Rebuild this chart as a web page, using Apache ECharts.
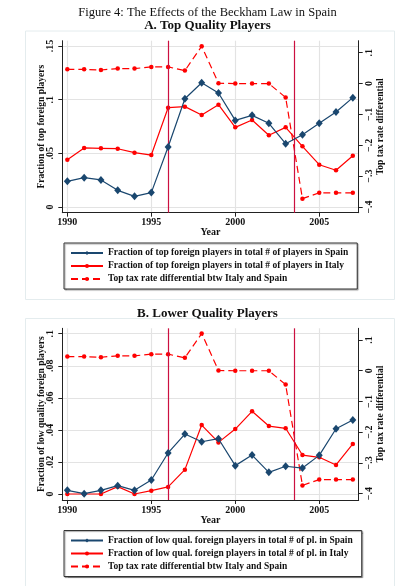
<!DOCTYPE html>
<html><head><meta charset="utf-8">
<script src="https://cdn.jsdelivr.net/npm/echarts@6/dist/echarts.min.js"></script>
<style>html,body{margin:0;padding:0;background:#fff}#c{width:415px;height:586px}</style>
</head><body><div id="c"></div><script>
const years = [1990,1991,1992,1993,1994,1995,1996,1997,1998,1999,2000,2001,2002,2003,2004,2005,2006,2007];
const topSpain = [0.0239,0.0273,0.0252,0.0155,0.0099,0.0134,0.0559,0.1009,0.1158,0.1062,0.0807,0.0854,0.0780,0.0590,0.0674,0.0780,0.0885,0.1019];
const topItaly = [0.0441,0.0550,0.0547,0.0543,0.0506,0.0484,0.0925,0.0935,0.0857,0.0953,0.0742,0.0811,0.0668,0.0742,0.0565,0.0394,0.0342,0.0478];
const taxDiff = [0.046,0.046,0.044,0.0485,0.0485,0.054,0.054,0.042,0.121,0.001,0,0,0,-0.045,-0.373,-0.354,-0.354,-0.354];
const lowSpain = [0.0023,0.0002,0.0023,0.0052,0.0023,0.0087,0.0256,0.0374,0.0326,0.0345,0.0177,0.0243,0.0135,0.0173,0.0162,0.0241,0.0407,0.0462];
const lowItaly = [0,0,0,0.0046,0,0.0021,0.0044,0.0152,0.0430,0.0322,0.0405,0.0516,0.0424,0.0410,0.0243,0.0229,0.0181,0.0312];
const policyYears = [1996, 2003.5];
const xTicks = [1990,1995,2000,2005];
const topLeftTicks = [0,0.05,0.1,0.15];
const lowLeftTicks = [0,0.02,0.04,0.06,0.08,0.1];
const rightTicks = [-0.4,-0.3,-0.2,-0.1,0,0.1];

const FONT = 'Liberation Serif';
const NAVY = '#1a476f', RED = '#ff0000', CRAN = '#cc1040', GRID = '#e3e3e3', AX = '#222';
const pair = arr => years.map((y,i)=>[y,arr[i]]);
const fmt = v => { if (Math.abs(v) < 1e-9) return '0'; let s = String(+v.toFixed(3)); return s.replace('0.', '.').replace('-', '\u2212'); };

const txt = {fontFamily: FONT, fontWeight: 'bold', color: '#111', fontSize: 9.5};

function xAxis(gi){
  return {type:'value', gridIndex:gi, min:1989.7, max:2007.35,
    name:'Year', nameLocation:'middle', nameGap:15, nameMoveOverlap:false, nameTextStyle:{...txt, fontSize:10},
    axisLine:{show:true, onZero:false, lineStyle:{color:AX, width:1}},
    axisTick:{show:true, length:4, customValues:xTicks, lineStyle:{color:AX}},
    axisLabel:{...txt, fontSize:10, margin:5, customValues:xTicks, formatter: v=>String(v)},
    splitLine:{show:true, lineStyle:{color:GRID, width:1.2}}};
}
function leftAxis(gi, min, max, ticks, name){
  return {type:'value', gridIndex:gi, position:'left', min, max,
    name, nameLocation:'middle', nameGap:16, nameMoveOverlap:false, nameRotate:90, nameTextStyle:{...txt},
    axisLine:{show:true, onZero:false, lineStyle:{color:AX}},
    axisTick:{show:true, length:4, customValues:ticks, lineStyle:{color:AX}},
    axisLabel:{...txt, fontSize:10, rotate:90, margin:7, customValues:ticks, formatter:fmt},
    splitLine:{show:true, lineStyle:{color:GRID, width:1.2}}};
}
function rightAxis(gi, min, max){
  return {type:'value', gridIndex:gi, position:'right', min, max,
    name:'Top tax rate differential', nameLocation:'middle', nameGap:17, nameMoveOverlap:false, nameRotate:90, nameTextStyle:{...txt},
    axisLine:{show:true, onZero:false, lineStyle:{color:AX}},
    axisTick:{show:true, length:4, customValues:rightTicks, lineStyle:{color:AX}},
    axisLabel:{...txt, fontSize:10, rotate:90, margin:6, customValues:rightTicks, formatter:fmt},
    splitLine:{show:false}};
}
function spainSeries(name, data, xi, yi){
  return {type:'line', name, xAxisIndex:xi, yAxisIndex:yi, data:pair(data),
    symbol:'diamond', symbolSize:[7,8], itemStyle:{color:NAVY}, lineStyle:{color:NAVY, width:1.2}, z:5,
    markLine:{silent:true, symbol:'none', label:{show:false}, lineStyle:{color:CRAN, type:'solid', width:1.2},
      data: policyYears.map(y=>({xAxis:y}))}};
}
function italySeries(name, data, xi, yi){
  return {type:'line', name, xAxisIndex:xi, yAxisIndex:yi, data:pair(data),
    symbol:'circle', symbolSize:4.5, itemStyle:{color:RED}, lineStyle:{color:RED, width:1.2}, z:4};
}
function taxSeries(xi, yi){
  return {type:'line', name:'Top tax rate differential btw Italy and Spain', xAxisIndex:xi, yAxisIndex:yi, data:pair(taxDiff),
    symbol:'circle', symbolSize:4.5, itemStyle:{color:RED}, lineStyle:{color:RED, width:1.2, type:[7,4]}, z:3};
}
function legend(top, names){
  return {orient:'vertical', left:64, top, data:names, itemWidth:32, itemHeight:5, itemGap:3,
    padding:[5,9,5,6], borderColor:'#333', borderWidth:1, backgroundColor:'#fff',
    shadowColor:'rgba(0,0,0,0.35)', shadowOffsetX:1, shadowOffsetY:1, shadowBlur:1,
    textStyle:{...txt, fontSize:9.5}, selectedMode:false};
}
const n1 = ['Fraction of top foreign players in total # of players in Spain','Fraction of top foreign players in total # of players in Italy','Top tax rate differential btw Italy and Spain'];
const n2 = ['Fraction of low qual. foreign players in total # of pl. in Spain','Fraction of low qual. foreign players in total # of pl. in Italy','Top tax rate differential btw Italy and Spain'];

const chart = echarts.init(document.getElementById('c'));
chart.setOption({
  animation:false,
  backgroundColor:'#fff',
  title:[
    {text:'Figure 4: The Effects of the Beckham Law in Spain', left:'center', top:1, textStyle:{fontFamily:FONT, fontWeight:'normal', fontSize:12.5, color:'#111'}},
    {text:'A. Top Quality Players', left:'center', top:14, textStyle:{fontFamily:FONT, fontWeight:'bold', fontSize:13, color:'#111'}},
    {text:'B. Lower Quality Players', left:'center', top:302, textStyle:{fontFamily:FONT, fontWeight:'bold', fontSize:13, color:'#111'}}
  ],
  graphic:[
    {type:'rect', shape:{x:25.5, y:31, width:369, height:268.5}, style:{fill:'none', stroke:'#e4ecee', lineWidth:1}, silent:true, z:-1},
    {type:'rect', shape:{x:25.5, y:318.5, width:369, height:280}, style:{fill:'none', stroke:'#e4ecee', lineWidth:1}, silent:true, z:-1}
  ],
  grid:[
    {left:62.3, right:56.3, top:40.7, height:172},
    {left:62.3, right:56.3, top:328.3, height:171.7}
  ],
  legend:[legend(243, n1), legend(530.5, n2)],
  xAxis:[xAxis(0), xAxis(1)],
  yAxis:[
    leftAxis(0, -0.00531, 0.15494, topLeftTicks, 'Fraction of top foreign players'),
    rightAxis(0, -0.4185, 0.1389),
    leftAxis(1, -0.00374, 0.10337, lowLeftTicks, 'Fraction of low quality foreign players'),
    rightAxis(1, -0.4205, 0.1381)
  ],
  series:[
    spainSeries(n1[0], topSpain, 0, 0),
    italySeries(n1[1], topItaly, 0, 0),
    taxSeries(0, 1),
    spainSeries(n2[0], lowSpain, 1, 2),
    italySeries(n2[1], lowItaly, 1, 2),
    taxSeries(1, 3)
  ]
});
</script></body></html>
